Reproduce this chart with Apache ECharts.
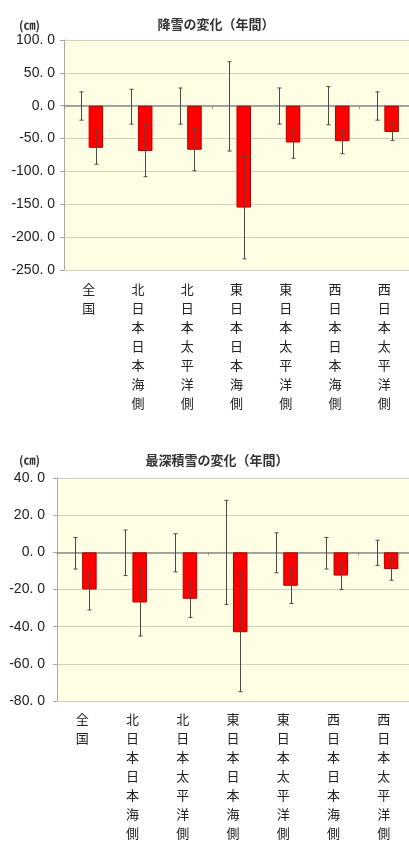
<!DOCTYPE html>
<html><head><meta charset="utf-8">
<script src="https://cdn.jsdelivr.net/npm/echarts@6/dist/echarts.min.js"></script>
<style>html,body{margin:0;padding:0;background:#fff;}#c{width:409px;height:843px;}</style>
</head><body><div id="c"></div>
<script>
const categories = ['全国','北日本日本海側','北日本太平洋側','東日本日本海側','東日本太平洋側','西日本日本海側','西日本太平洋側'];

// 降雪の変化(年間)
const snowTicks = [-250, -200, -150, -100, -50, 0, 50, 100];
const snowBase = [0, 0, 0, 0, 0, 0, 0];
const snowVarHigh = [21, 25, 27, 67, 27, 29, 21];
const snowVarLow = [-22, -28, -28, -69, -28, -29, -22];
const snowChange = [-64, -69, -67, -155, -56, -54, -40];
const snowChangeHigh = [-38, -29, -35, -77, -33, -37, -26];
const snowChangeLow = [-89, -108, -99, -233, -80, -73, -53];

// 最深積雪の変化(年間)
const depthTicks = [-80, -60, -40, -20, 0, 20, 40];
const depthBase = [0, 0, 0, 0, 0, 0, 0];
const depthVarHigh = [8, 12, 10, 28, 10.5, 8, 6.5];
const depthVarLow = [-9, -12.5, -10.5, -28, -11, -9, -7];
const depthChange = [-20, -27, -25, -43, -18, -12.5, -9];
const depthChangeHigh = [-10.5, -9, -16, -11, -8.5, -5, -3];
const depthChangeLow = [-31, -45, -35, -75, -27.5, -20, -15];

const BW = 14.5;
const CJK = '"Noto Sans CJK JP", sans-serif';
const NUM = '"Liberation Sans", Arial, sans-serif';

function errSeries(gi, lows, highs, offset) {
  return {
    type: 'custom', xAxisIndex: gi * 2, yAxisIndex: gi, z: 5,
    data: lows.map((l, i) => [i, l, highs[i]]),
    encode: { x: 0, y: [1, 2] },
    renderItem: function (params, api) {
      const i = api.value(0);
      const a = api.coord([i, api.value(1)]);
      const b = api.coord([i, api.value(2)]);
      const x = Math.round(a[0] + offset) + 0.5;
      const st = { stroke: '#4a4a4a', lineWidth: 1 };
      return { type: 'group', children: [
        { type: 'line', shape: { x1: x, y1: a[1], x2: x, y2: b[1] }, style: st },
        { type: 'line', shape: { x1: x - 2, y1: a[1], x2: x + 2, y2: a[1] }, style: st },
        { type: 'line', shape: { x1: x - 2, y1: b[1], x2: x + 2, y2: b[1] }, style: st }
      ]};
    }
  };
}

function axesFor(gi, ticks, labelMargin) {
  const x1 = {
    type: 'category', gridIndex: gi, data: categories, position: 'bottom',
    axisLine: { onZero: true, lineStyle: { color: '#8f8f8f', width: 1.5 } },
    axisTick: { show: true, length: 3, lineStyle: { color: '#8f8f8f' } },
    axisLabel: { show: false }
  };
  const x2 = {
    type: 'category', gridIndex: gi, data: categories, position: 'bottom',
    axisLine: { show: false, onZero: false }, axisTick: { show: false },
    axisLabel: {
      interval: 0, margin: labelMargin, fontFamily: CJK, fontSize: 13, color: '#222',
      lineHeight: 19, verticalAlign: 'top',
      formatter: v => v.split('').join('\n')
    }
  };
  const y = {
    type: 'value', gridIndex: gi,
    min: ticks[0], max: ticks[ticks.length - 1], interval: ticks[1] - ticks[0],
    axisLine: { show: true, lineStyle: { color: '#aaa' } },
    axisTick: { show: true, length: 4, lineStyle: { color: '#aaa' } },
    splitLine: { lineStyle: { color: '#d2d2bc', width: 1 } },
    axisLabel: { fontFamily: NUM, fontSize: 14, color: '#222', margin: gi === 0 ? 9 : 12,
      formatter: v => v.toFixed(1).replace('.', '. ') }
  };
  return { x: [x1, x2], y: y };
}

const a0 = axesFor(0, snowTicks, 10);
const a1 = axesFor(1, depthTicks, 9);

const option = {
  animation: false,
  title: [
    { text: '降雪の変化（年間）', left: 211, top: 13, textAlign: 'center',
      textStyle: { fontFamily: CJK, fontSize: 13, fontWeight: 'bold', color: '#333' } },
    { text: '(㎝)', left: 14, top: 14,
      textStyle: { fontFamily: CJK, fontSize: 12, fontWeight: 'bold', color: '#333' } },
    { text: '最深積雪の変化（年間）', left: 212, top: 449, textAlign: 'center',
      textStyle: { fontFamily: CJK, fontSize: 13, fontWeight: 'bold', color: '#333' } },
    { text: '(㎝)', left: 14, top: 449,
      textStyle: { fontFamily: CJK, fontSize: 12, fontWeight: 'bold', color: '#333' } }
  ],
  grid: [
    { left: 64, top: 40, width: 347, height: 230, show: true, backgroundColor: '#fefee4', borderWidth: 0 },
    { left: 57, top: 478, width: 355, height: 229, show: true, backgroundColor: '#fefee4', borderWidth: 0 }
  ],
  xAxis: [a0.x[0], a0.x[1], a1.x[0], a1.x[1]],
  yAxis: [a0.y, a1.y],
  series: [
    { type: 'bar', xAxisIndex: 0, yAxisIndex: 0, data: snowBase, barWidth: BW, barGap: '0%',
      itemStyle: { color: 'rgba(0,0,0,0)' } },
    { type: 'bar', xAxisIndex: 0, yAxisIndex: 0, data: snowChange, barWidth: BW, barGap: '0%',
      itemStyle: { color: '#ff0000', borderColor: '#b00000', borderWidth: 1 } },
    errSeries(0, snowVarLow, snowVarHigh, -BW / 2),
    errSeries(0, snowChangeLow, snowChangeHigh, BW / 2),
    { type: 'bar', xAxisIndex: 2, yAxisIndex: 1, data: depthBase, barWidth: BW, barGap: '0%',
      itemStyle: { color: 'rgba(0,0,0,0)' } },
    { type: 'bar', xAxisIndex: 2, yAxisIndex: 1, data: depthChange, barWidth: BW, barGap: '0%',
      itemStyle: { color: '#ff0000', borderColor: '#b00000', borderWidth: 1 } },
    errSeries(1, depthVarLow, depthVarHigh, -BW / 2),
    errSeries(1, depthChangeLow, depthChangeHigh, BW / 2)
  ]
};
const chart = echarts.init(document.getElementById('c'), null, { renderer: 'canvas' });
chart.setOption(option);
</script>
</body></html>
